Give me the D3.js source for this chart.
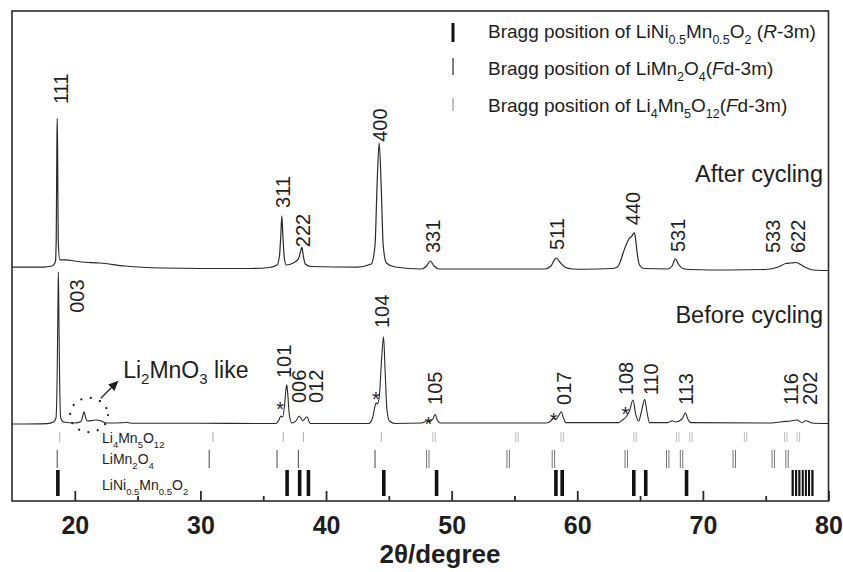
<!DOCTYPE html>
<html>
<head>
<meta charset="utf-8">
<script src="https://cdn.jsdelivr.net/npm/d3@7/dist/d3.min.js"></script>
<style>
  body { margin: 0; background: #fff; }
  svg text { font-family: 'Liberation Sans', Arial, Helvetica, sans-serif; fill: #1e1e1e; }
</style>
</head>
<body>
<svg id="chart" width="843" height="572"></svg>
<script>
// XRD patterns, [2theta, intensity (a.u.)]
const afterCycling = [
  [15, 2.5], [17.5, 2.5], [18.2, 4.6], [18.45, 12.8], [18.52, 57], [18.57, 241], [18.6, 306],
  [18.63, 241], [18.68, 57], [18.8, 17], [19.2, 17], [20.5, 12.8], [22, 10.7], [24, 4.6],
  [27, 0.5], [30, -0.5], [34, -0.5], [35.5, 1.5], [36.1, 6.6], [36.3, 27], [36.4, 68],
  [36.48, 107], [36.56, 68], [36.68, 21], [36.83, 6.6], [37.4, 10.8], [37.8, 19], [38.0, 37],
  [38.08, 42.8], [38.18, 27], [38.35, 8.7], [38.8, 3.6], [42.5, 2.5], [43.6, 8.7], [43.9, 47],
  [44.05, 160], [44.23, 256], [44.4, 160], [44.55, 47], [44.8, 10.8], [45.5, 2.5],
  [47.6, -1.5], [48.0, 4.6], [48.3, 14.8], [48.6, 4.6], [49.0, -1.5], [57.4, -1.5],
  [57.9, 4.6], [58.2, 17.9], [58.35, 20.9], [58.6, 12.8], [59.0, 2.5], [59.6, -1.5],
  [60.5, -2], [62.8, -0.5], [63.2, 2.5], [63.5, 19], [63.7, 35], [63.95, 51.5], [64.17, 62],
  [64.3, 64], [64.45, 70], [64.55, 72], [64.65, 58], [64.8, 25], [64.95, 6.6], [65.3, -0.5],
  [67.2, -1.5], [67.55, 4.6], [67.81, 19], [68.05, 8.7], [68.4, -0.5], [69, -2.5], [72, -3.6],
  [75, -2.5], [76.0, 2.5], [76.6, 9.7], [77.0, 10.7], [77.4, 11.7], [77.7, 8.7], [78.1, 2.5],
  [78.8, -3.6], [80, -4.6]
]

const beforeCycling = [
  [15, -3], [17.8, -2], [18.3, 1.2], [18.5, 9.4], [18.6, 107], [18.66, 250], [18.69, 308],
  [18.72, 250], [18.78, 107], [18.88, 9.4], [19.1, 1.2], [20.0, -0.8], [20.5, 2.2], [20.65, 15.5],
  [20.74, 22.2], [20.85, 11.4], [21.0, 3.3], [21.4, 4.3], [21.7, 5.3], [22.1, 3.3], [22.5, -0.8],
  [23.8, -0.4], [24.1, 0.6], [24.5, -1.2], [30, -1.4], [36.0, -1.8], [36.25, 5.3], [36.4, 13.5],
  [36.55, 11.4], [36.7, 36], [36.8, 66], [36.88, 77], [36.96, 56], [37.08, 15.5], [37.28, -0.8],
  [37.6, 3.3], [37.86, 13.5], [38.15, 3.9], [38.47, 12], [38.74, -1.8], [43.4, -1.8], [43.7, 9.4],
  [43.9, 34], [43.99, 40.6], [44.1, 38], [44.25, 56], [44.42, 128], [44.58, 175], [44.7, 107],
  [44.85, 25.7], [45.05, 3.3], [45.5, -1.8], [47.6, -0.8], [47.9, 2.2], [48.03, 3.9], [48.2, 1.2],
  [48.5, 7.3], [48.69, 17], [48.85, 5.3], [49.1, -0.8], [57.5, -0.8], [57.9, 3.3], [58.12, 8.8],
  [58.3, 6.3], [58.55, 15.5], [58.73, 22.2], [58.9, 9.4], [59.1, 0], [63.3, 0], [63.6, 5.3],
  [63.9, 12], [64.15, 23.7], [64.44, 46], [64.65, 17.5], [64.89, 3.3], [65.1, 21.6], [65.37, 47.5],
  [65.55, 21.6], [65.75, 0], [67.2, 0], [67.55, 3.9], [67.8, 1.2], [68.35, 7.3], [68.61, 20.2],
  [68.8, 7.3], [69.05, 0], [75.5, -0.8], [76.3, 1.8], [77.0, 3.3], [77.5, 5.3], [77.9, -0.2],
  [78.17, 3.9], [78.8, -1.4], [80, -1.8]
]

// vertical shift of the upper pattern
const afterOffset = 315

// peak indices: [label, 2theta, intensity at label start]
const afterPeaks = [
  ['111', 18.85, 335], ['311', 36.59, 123], ['222', 38.18, 43], ['400', 44.31, 258],
  ['331', 48.46, 31], ['511', 58.41, 37], ['440', 64.39, 88], ['531', 67.97, 33],
  ['533', 75.54, 31], ['622', 77.53, 31]
]
const beforePeaks = [
  ['003', 20.18, 224], ['101', 36.62, 91], ['006', 37.86, 40], ['012', 39.2, 40],
  ['104', 44.47, 193], ['105', 48.69, 36], ['017', 58.89, 36], ['108', 63.83, 56],
  ['110', 65.82, 56], ['113', 68.61, 36], ['116', 76.97, 36], ['202', 78.49, 36]
]
// impurity marks "*" on the before pattern: [2theta, intensity]
const starMarks = [[36.35, 37], [43.97, 58], [48.14, 7.3], [58.12, 13.5], [63.83, 26]]

// Bragg positions (2theta)
const braggLi4Mn5O12 = [18.8, 31.0, 36.6, 38.2, 44.4, 48.6, 55.2, 58.8, 64.6, 68.0, 69.05, 73.4, 76.6, 77.6]
const braggLiMn2O4 = [18.6, 30.7, 36.1, 37.8, 43.9, 48.1, 54.5, 58.1, 63.9, 67.2, 68.3, 72.5, 75.6, 76.7]
const braggLiNiMnO2 = [18.65, 36.9, 37.9, 38.6, 44.6, 48.8, 58.3, 58.8, 64.5, 65.45, 68.7,
  77.15, 77.42, 77.68, 77.95, 78.2, 78.45, 78.72]

const xMajorTicks = [20, 30, 40, 50, 60, 70, 80]
const xMinorTicks = [25, 35, 45, 55, 65, 75]

const svg = d3.select('#chart')
const frame = {left: 12, right: 828.5, top: 11, bottom: 501}

const x = d3.scaleLinear().domain([15, 80]).range([frame.left, frame.right])
const y = d3.scaleLinear().domain([-160, 840]).range([frame.bottom, frame.top])

// write text made of parts: [string, 's' sub | 'i' italic | '']
function richText (sel, parts, subSize, subShift) {
  let shifted = false
  parts.forEach(([str, kind]) => {
    const t = sel.append('tspan').text(str)
    if (kind === 's') {
      t.attr('font-size', subSize)
      if (!shifted) t.attr('dy', subShift)
      shifted = true
    } else {
      if (shifted) t.attr('dy', -subShift)
      shifted = false
      if (kind === 'i') t.attr('font-style', 'italic')
    }
  })
}

// axis frame
svg.append('rect')
  .attr('x', frame.left).attr('y', frame.top)
  .attr('width', frame.right - frame.left).attr('height', frame.bottom - frame.top)
  .attr('fill', 'none').attr('stroke', '#2b2b2b').attr('stroke-width', 1.6)

const axis = svg.append('g')
  .attr('transform', `translate(0,${frame.bottom})`)
  .call(d3.axisBottom(x).tickValues(xMajorTicks).tickSizeInner(-10).tickSizeOuter(0).tickPadding(15))
axis.select('.domain').remove()
axis.selectAll('line').attr('stroke', '#2b2b2b').attr('stroke-width', 1.8)
axis.selectAll('text')
  .attr('font-size', 25).attr('font-weight', 'bold')
  .style('font-family', "'Liberation Sans', Arial, sans-serif").attr('fill', '#1e1e1e')

const minor = svg.append('g')
  .attr('transform', `translate(0,${frame.bottom})`)
  .call(d3.axisBottom(x).tickValues(xMinorTicks).tickSizeInner(-5).tickSizeOuter(0).tickFormat(''))
minor.select('.domain').remove()
minor.selectAll('line').attr('stroke', '#2b2b2b').attr('stroke-width', 1.8)

svg.append('text')
  .attr('x', 440).attr('y', 563)
  .attr('text-anchor', 'middle')
  .attr('font-size', 26).attr('font-weight', 'bold')
  .text('2\u03b8/degree')

// patterns
const line = offset => d3.line()
  .x(d => x(d[0]))
  .y(d => y(d[1] + offset))
  .curve(d3.curveMonotoneX)

svg.append('path').datum(afterCycling)
  .attr('d', line(afterOffset))
  .attr('fill', 'none').attr('stroke', '#2a2a2a').attr('stroke-width', 1.2)
svg.append('path').datum(beforeCycling)
  .attr('d', line(0))
  .attr('fill', 'none').attr('stroke', '#2a2a2a').attr('stroke-width', 1.1)

// rotated hkl labels
function peakLabels (peaks, offset) {
  svg.selectAll(null)
    .data(peaks)
    .enter()
    .append('text')
    .attr('transform', d => `translate(${x(d[1])},${y(d[2] + offset)}) rotate(-90)`)
    .attr('dy', '0.36em')
    .attr('font-size', 20)
    .text(d => d[0])
}
peakLabels(afterPeaks, afterOffset)
peakLabels(beforePeaks, 0)

svg.selectAll(null)
  .data(starMarks)
  .enter()
  .append('text')
  .attr('x', d => x(d[0]))
  .attr('y', d => y(d[1]) + 11.5)
  .attr('text-anchor', 'middle')
  .attr('font-size', 20)
  .text('*')

svg.append('text').attr('x', 823).attr('y', 182)
  .attr('text-anchor', 'end').attr('font-size', 23.5).text('After cycling')
svg.append('text').attr('x', 823).attr('y', 323)
  .attr('text-anchor', 'end').attr('font-size', 23.5).text('Before cycling')

// Li2MnO3 annotation: dotted ring, arrow and label
svg.append('ellipse')
  .attr('cx', x(21.13)).attr('cy', y(15.5))
  .attr('rx', x(21.13 + 1.51) - x(21.13)).attr('ry', y(0) - y(35))
  .attr('fill', 'none').attr('stroke', '#1e1e1e').attr('stroke-width', 2.2)
  .attr('stroke-linecap', 'round').attr('stroke-dasharray', '0.1,9.5')

const a0 = [x(22.07), y(49.6)]
const a1 = [x(23.47), y(85.5)]
const ang = Math.atan2(a1[1] - a0[1], a1[0] - a0[0])
const headLen = 10
const headW = 4.5
const hb = [a1[0] - headLen * Math.cos(ang), a1[1] - headLen * Math.sin(ang)]
svg.append('line')
  .attr('x1', a0[0]).attr('y1', a0[1]).attr('x2', hb[0]).attr('y2', hb[1])
  .attr('stroke', '#1e1e1e').attr('stroke-width', 1.3)
svg.append('polygon')
  .attr('points', [
    a1,
    [hb[0] + headW * Math.sin(ang), hb[1] - headW * Math.cos(ang)],
    [hb[0] - headW * Math.sin(ang), hb[1] + headW * Math.cos(ang)]
  ].map(p => p.join(',')).join(' '))
  .attr('fill', '#1e1e1e')

richText(svg.append('text').attr('x', x(23.85)).attr('y', y(91)).attr('font-size', 23),
  [['Li', ''], ['2', 's'], ['MnO', ''], ['3', 's'], [' like', '']], 15, 6)

// Bragg position rows
const rows = [
  {pos: braggLi4Mn5O12, y0: 432, y1: 442, color: '#b4b4b4', width: 1.1, pair: true,
    label: [['Li', ''], ['4', 's'], ['Mn', ''], ['5', 's'], ['O', ''], ['12', 's']], ly: 443},
  {pos: braggLiMn2O4, y0: 450, y1: 468, color: '#666', width: 1.2, pair: true,
    label: [['LiMn', ''], ['2', 's'], ['O', ''], ['4', 's']], ly: 464},
  {pos: braggLiNiMnO2, y0: 470, y1: 496, color: '#111', width: 3.6, pair: false,
    label: [['LiNi', ''], ['0.5', 's'], ['Mn', ''], ['0.5', 's'], ['O', ''], ['2', 's']], ly: 490}
]
rows.forEach(r => {
  r.pos.forEach((p, i) => {
    // keep a visible gap between bars that sit close together
    const gaps = [r.pos[i - 1], r.pos[i + 1]].filter(q => q !== undefined).map(q => Math.abs(x(q) - x(p)))
    const w = Math.min(r.width, d3.min(gaps) - 1.1)
    const shifts = r.pair && p > 46 ? [-1.2, 1.2] : [0]
    shifts.forEach(s => {
      svg.append('line')
        .attr('x1', x(p) + s).attr('x2', x(p) + s)
        .attr('y1', r.y0).attr('y2', r.y1)
        .attr('stroke', r.color).attr('stroke-width', r.pair && p > 46 ? 0.9 : w)
    })
  })
  richText(svg.append('text').attr('x', 102).attr('y', r.ly).attr('font-size', 14),
    r.label, 9.5, 5)
})

// legend
const legend = [
  {y0: 23, y1: 42, color: '#111', width: 3, ty: 38,
    parts: [['Bragg position of LiNi', ''], ['0.5', 's'], ['Mn', ''], ['0.5', 's'], ['O', ''], ['2', 's'],
      [' (', ''], ['R', 'i'], ['-3m)', '']]},
  {y0: 58, y1: 75, color: '#555', width: 1.5, ty: 75,
    parts: [['Bragg position of LiMn', ''], ['2', 's'], ['O', ''], ['4', 's'], ['(', ''], ['F', 'i'], ['d-3m)', '']]},
  {y0: 98, y1: 111, color: '#aaa', width: 1.5, ty: 112,
    parts: [['Bragg position of Li', ''], ['4', 's'], ['Mn', ''], ['5', 's'], ['O', ''], ['12', 's'],
      ['(', ''], ['F', 'i'], ['d-3m)', '']]}
]
legend.forEach(l => {
  svg.append('line')
    .attr('x1', 453).attr('x2', 453).attr('y1', l.y0).attr('y2', l.y1)
    .attr('stroke', l.color).attr('stroke-width', l.width)
  richText(svg.append('text').attr('x', 488).attr('y', l.ty).attr('font-size', 19),
    l.parts, 12.5, 6)
})
</script>
</body>
</html>
